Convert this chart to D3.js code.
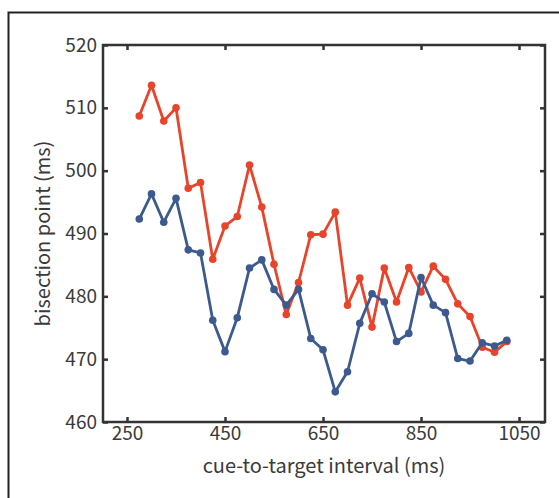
<!DOCTYPE html>
<html>
<head>
<meta charset="utf-8">
<script src="https://d3js.org/d3.v7.min.js"></script>
<style>
  body { margin: 0; background: #fff; }
  text { font-family: "Noto Sans CJK JP", "Noto Sans", sans-serif; fill: #3a3a3a; }
</style>
</head>
<body>
<script>
// data
var intervals = d3.range(275, 1026, 25);   // cue-to-target interval (ms), 31 steps
var redSeries = [508.7, 513.6, 507.9, 510.0, 497.2, 498.1, 485.9, 491.2, 492.7, 500.9,
                 494.2, 485.1, 477.1, 482.2, 489.8, 489.9, 493.4, 478.6, 482.9, 475.1,
                 484.5, 479.1, 484.6, 480.7, 484.8, 482.7, 478.8, 476.8, 471.9, 471.1, 472.8];
var blueSeries = [492.3, 496.3, 491.8, 495.6, 487.4, 486.9, 476.2, 471.2, 476.6, 484.5,
                  485.8, 481.1, 478.6, 481.1, 473.3, 471.5, 464.8, 468.0, 475.7, 480.4,
                  479.1, 472.8, 474.1, 483.0, 478.6, 477.4, 470.1, 469.7, 472.6, 472.1, 473.0];
var xTicks = [250, 450, 650, 850, 1050];
var yTicks = [460, 470, 480, 490, 500, 510, 520];

var W = 559, H = 498;
var margin = {top: 45, right: 14, bottom: 76, left: 103},
    width = W - margin.left - margin.right,
    height = H - margin.top - margin.bottom;

var svg = d3.select("body").append("svg")
    .attr("width", W)
    .attr("height", H);

// outer figure frame (open on the right and bottom)
svg.append("path")
    .attr("d", "M8.5," + H + "V12.5H" + W)
    .attr("fill", "none")
    .attr("stroke", "#222")
    .attr("stroke-width", 2);

var g = svg.append("g")
    .attr("transform", "translate(" + margin.left + "," + margin.top + ")");

var x = d3.scaleLinear().domain([201, 1103]).range([0, width]);
var y = d3.scaleLinear().domain([460, 520]).range([height, 0]);

// axes on all four sides, ticks pointing inward
function styleAxis(sel) {
  sel.select(".domain").remove();
  sel.selectAll(".tick line").attr("stroke", "#333").attr("stroke-width", 2.5);
  sel.selectAll(".tick text").style("font-size", "19px").attr("fill", "#3a3a3a");
}

g.append("g")
    .attr("transform", "translate(0," + height + ")")
    .call(d3.axisBottom(x).tickValues(xTicks).tickSizeInner(-5).tickSizeOuter(0)
            .tickPadding(4).tickFormat(d3.format("d")))
    .call(styleAxis);
g.append("g")
    .call(d3.axisTop(x).tickValues(xTicks).tickSizeInner(-5).tickSizeOuter(0).tickFormat(""))
    .call(styleAxis);
g.append("g")
    .call(d3.axisLeft(y).tickValues(yTicks).tickSizeInner(-5).tickSizeOuter(0).tickPadding(6))
    .call(styleAxis);
g.append("g")
    .attr("transform", "translate(" + width + ",0)")
    .call(d3.axisRight(y).tickValues(yTicks).tickSizeInner(-5).tickSizeOuter(0).tickFormat(""))
    .call(styleAxis);

// plot box
g.append("rect")
    .attr("width", width)
    .attr("height", height)
    .attr("fill", "none")
    .attr("stroke", "#333")
    .attr("stroke-width", 2.5);

var line = d3.line()
    .x(function(d, i) { return x(intervals[i]); })
    .y(function(d) { return y(d); });

function drawSeries(values, color) {
  g.append("path")
      .datum(values)
      .attr("fill", "none")
      .attr("stroke", color)
      .attr("stroke-width", 2.8)
      .attr("stroke-linejoin", "round")
      .attr("d", line);
  g.selectAll(null)
      .data(values)
      .enter().append("circle")
      .attr("cx", function(d, i) { return x(intervals[i]); })
      .attr("cy", function(d) { return y(d); })
      .attr("r", 3.8)
      .attr("fill", color);
}

drawSeries(redSeries, "#e8432b");
drawSeries(blueSeries, "#3c5a8e");

// x axis label
svg.append("text")
    .attr("x", margin.left + width / 2)
    .attr("y", 473)
    .attr("text-anchor", "middle")
    .style("font-size", "20px")
    .text("cue-to-target interval (ms)");

// y axis label
svg.append("text")
    .attr("transform", "translate(50," + (margin.top + height / 2) + ") rotate(-90)")
    .attr("text-anchor", "middle")
    .style("font-size", "20px")
    .text("bisection point (ms)");
</script>
</body>
</html>
